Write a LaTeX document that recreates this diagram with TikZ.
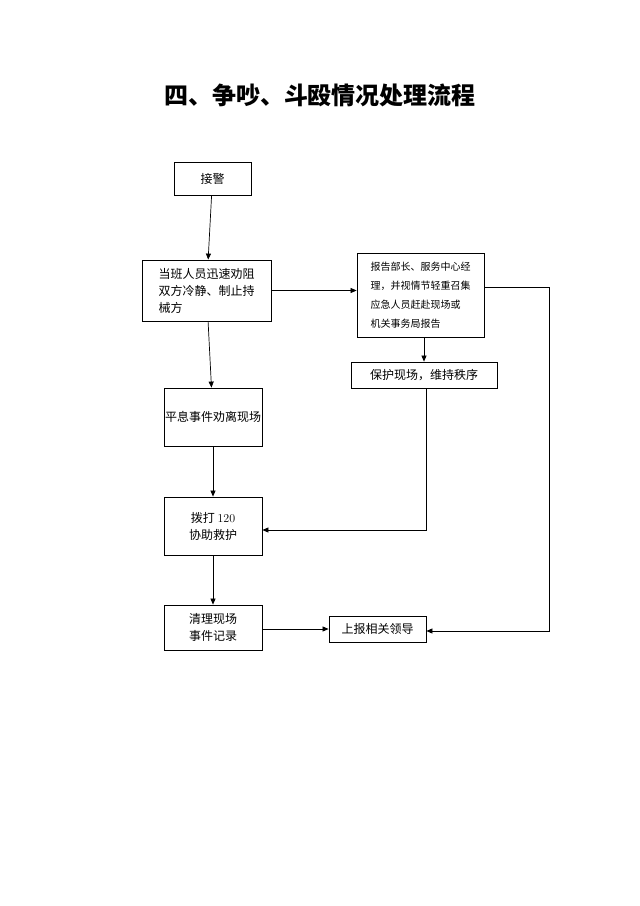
\documentclass[tikz,border=0pt]{standalone}
\usepackage{fontspec}
\setmainfont{Liberation Serif}
\newfontfamily\cjk{Noto Sans CJK SC}
\usetikzlibrary{arrows.meta}
\begin{document}
\begin{tikzpicture}[x=1pt,y=-1pt,
 box/.style={draw,line width=0.8pt,inner sep=0,font=\cjk\fontsize{12}{17}\selectfont},
 ar/.style={-{Triangle[length=6pt,width=5pt]},line width=0.7pt},
 ln/.style={line width=0.7pt}]
\useasboundingbox (0,0) rectangle (640,906);
\node[font=\cjk\bfseries\fontsize{24}{28}\selectfont] (title) at (320,95) {四、争吵、斗殴情况处理流程};
\node[box,minimum width=77,minimum height=33] (a) at (212.5,178.5) {接警};
\node[box,minimum width=129,minimum height=61,align=left] (b) at (206.5,290.5) {当班人员迅速劝阻\\双方冷静、制止持\\械方\hspace{5em}};
\node[box,minimum width=127,minimum height=84,align=left,font=\cjk\fontsize{10}{19}\selectfont] (c) at (420.5,295) {报告部长、服务中心经\\理，并视情节轻重召集\\应急人员赶赴现场或\hspace{1em}\\机关事务局报告\hspace{3em}};
\node[box,minimum width=146,minimum height=26] (d) at (424,375) {保护现场，维持秩序};
\node[box,minimum width=98,minimum height=58] (e) at (213,417) {平息事件\\劝离现场};
\node[box,minimum width=98,minimum height=58,align=center] (f) at (213,526) {{\rmfamily}拨打 {\fontfamily{}\selectfont 120}\\协助救护};
\node[box,minimum width=98,minimum height=45,align=center] (g) at (213,627.5) {清理现场\\事件记录};
\node[box,minimum width=97,minimum height=26] (h) at (377.5,629) {上报相关领导};
\coordinate (r1) at (549,287);
\coordinate (r2) at (549,631);
\coordinate (k) at (426,530);
\draw[ar] (a) -- (b);
\draw[ar] (b.east) -- (c.west|-b.east);
\draw[ar] (c.south-|d.north) -- (d.north);
\draw[ar] (b) -- (e);
\draw[ar] (e) -- (f);
\draw[ar] (f) -- (g);
\draw[ar] (d.south-|k) -- (k) -- (f.east|-k);
\draw[ar] (c.east|-r1) -- (r1) -- (r2) -- (h.east|-r2);
\draw[ar] (g.east|-h) -- (h.west);
\end{tikzpicture}
\end{document}
